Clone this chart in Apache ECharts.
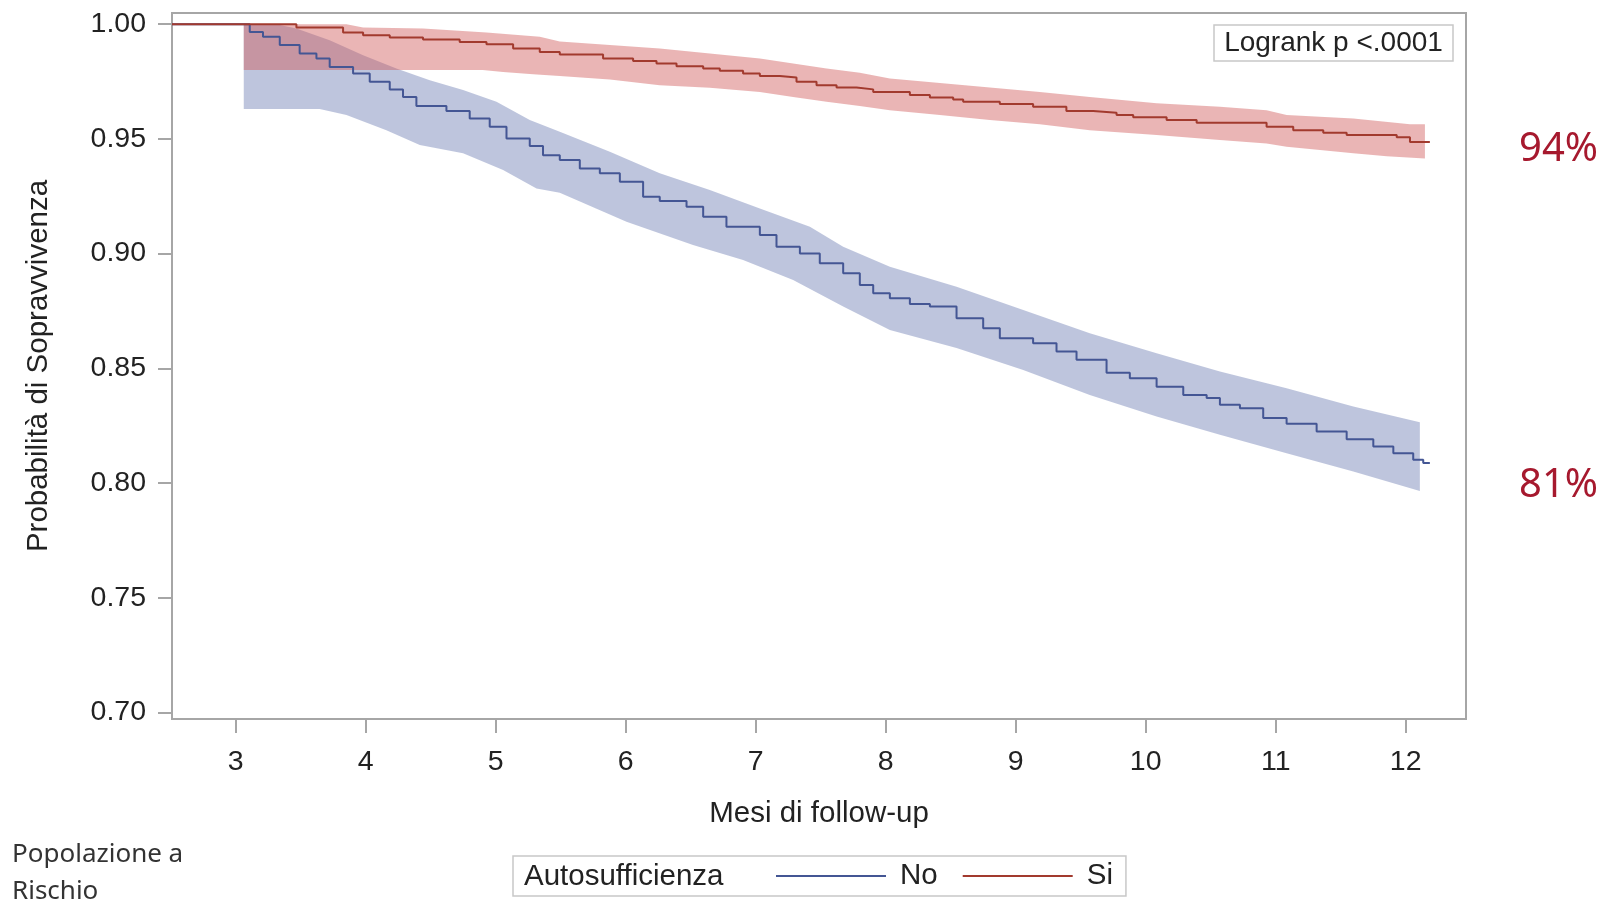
<!DOCTYPE html>
<html>
<head>
<meta charset="utf-8">
<script src="https://cdn.jsdelivr.net/npm/echarts@6/dist/echarts.min.js"></script>
<style>
  html, body { margin: 0; background: #fff; }
  #chart { width: 1602px; height: 904px; }
</style>
</head>
<body>
<div id="chart"></div>
<script>
// assi
const xTicks = [3, 4, 5, 6, 7, 8, 9, 10, 11, 12];
const yTicks = [0.70, 0.75, 0.80, 0.85, 0.90, 0.95, 1.00];

// curva KM - Autosufficienza = No  [mese, sopravvivenza]
const noCurve = [
  [2.51, 1.0], [3.062, 1.0], [3.108, 0.9966], [3.210, 0.9945], [3.339, 0.9909], [3.492, 0.9872],
  [3.621, 0.9851], [3.723, 0.9814], [3.903, 0.9785], [4.031, 0.9749], [4.185, 0.9716], [4.287, 0.9683],
  [4.390, 0.9643], [4.621, 0.9622], [4.800, 0.9589], [4.954, 0.9553], [5.083, 0.9502], [5.262, 0.9469],
  [5.364, 0.9429], [5.493, 0.9408], [5.647, 0.9371], [5.801, 0.9350], [5.955, 0.9313], [6.134, 0.9248],
  [6.262, 0.9229], [6.468, 0.9204], [6.596, 0.9161], [6.775, 0.9117], [7.032, 0.9081], [7.160, 0.9030],
  [7.340, 0.9001], [7.493, 0.8958], [7.673, 0.8914], [7.801, 0.8863], [7.904, 0.8827], [8.032, 0.8805],
  [8.186, 0.8780], [8.340, 0.8769], [8.545, 0.8718], [8.750, 0.8675], [8.878, 0.8631], [9.134, 0.8609],
  [9.314, 0.8573], [9.468, 0.8537], [9.699, 0.8481], [9.878, 0.8457], [10.084, 0.8420], [10.289, 0.8384],
  [10.469, 0.8370], [10.571, 0.8341], [10.725, 0.8326], [10.904, 0.8283], [11.084, 0.8258], [11.315, 0.8224],
  [11.546, 0.8191], [11.751, 0.8159], [11.905, 0.8130], [12.058, 0.8101], [12.135, 0.8087], [12.186, 0.8087]
];

// curva KM - Autosufficienza = Si
const siCurve = [
  [2.51, 1.0], [3.313, 1.0], [3.467, 0.9986], [3.826, 0.9964], [3.980, 0.9952], [4.185, 0.9942],
  [4.441, 0.9933], [4.723, 0.9923], [4.929, 0.9913], [5.134, 0.9894], [5.339, 0.9879], [5.493, 0.9868],
  [5.826, 0.9851], [6.057, 0.9840], [6.237, 0.9829], [6.391, 0.9817], [6.596, 0.9807], [6.724, 0.9797],
  [6.903, 0.9785], [7.032, 0.9774], [7.186, 0.9768], [7.314, 0.9749], [7.468, 0.9734], [7.622, 0.9724],
  [7.776, 0.9716], [7.904, 0.9705], [8.186, 0.9691], [8.340, 0.9681], [8.519, 0.9672], [8.596, 0.9662],
  [8.878, 0.9652], [9.134, 0.9640], [9.390, 0.9622], [9.596, 0.9614], [9.776, 0.9604], [9.904, 0.9594],
  [10.161, 0.9582], [10.392, 0.9570], [10.930, 0.9553], [11.135, 0.9538], [11.366, 0.9527], [11.546, 0.9517],
  [11.931, 0.9507], [12.033, 0.9487], [12.186, 0.9487]
];

// bande di confidenza
const noUpper = [
  [3.062, 1.0], [3.313, 1.0], [3.467, 0.9981], [3.723, 0.9930], [3.980, 0.9865], [4.236, 0.9807],
  [4.493, 0.9756], [4.749, 0.9713], [5.006, 0.9662], [5.262, 0.9582], [5.493, 0.9531], [5.878, 0.9444],
  [6.262, 0.9350], [6.647, 0.9277], [7.032, 0.9197], [7.417, 0.9117], [7.673, 0.9030], [8.032, 0.8943],
  [8.545, 0.8856], [9.058, 0.8754], [9.570, 0.8653], [10.084, 0.8566], [10.571, 0.8486], [11.084, 0.8413],
  [11.597, 0.8333], [12.109, 0.8265]
];
const noLower = [
  [3.062, 0.9630], [3.646, 0.9630], [3.852, 0.9604], [4.159, 0.9538], [4.416, 0.9473], [4.749, 0.9437],
  [5.057, 0.9364], [5.314, 0.9284], [5.493, 0.9265], [6.006, 0.9139], [6.518, 0.9037], [6.903, 0.8972],
  [7.288, 0.8885], [7.673, 0.8769], [8.032, 0.8667], [8.545, 0.8588], [9.058, 0.8493], [9.570, 0.8384],
  [10.084, 0.8290], [10.571, 0.8210], [11.084, 0.8130], [11.597, 0.8050], [12.109, 0.7965]
];
const siUpper = [
  [3.062, 1.0], [3.852, 1.0], [3.980, 0.9986], [4.441, 0.9981], [4.929, 0.9964], [5.339, 0.9945],
  [5.493, 0.9925], [5.878, 0.9909], [6.262, 0.9894], [6.647, 0.9872], [7.032, 0.9851], [7.288, 0.9829],
  [7.545, 0.9807], [7.801, 0.9788], [8.032, 0.9763], [8.417, 0.9744], [8.801, 0.9724], [9.186, 0.9705],
  [9.570, 0.9683], [10.084, 0.9655], [10.571, 0.9640], [10.930, 0.9625], [11.084, 0.9604], [11.597, 0.9589],
  [12.033, 0.9564], [12.148, 0.9564]
];
const siLower = [
  [3.062, 0.9800], [4.900, 0.9800], [5.057, 0.9792], [5.288, 0.9782], [5.493, 0.9774], [5.878, 0.9759],
  [6.262, 0.9734], [6.647, 0.9723], [7.032, 0.9705], [7.288, 0.9683], [7.545, 0.9662], [7.801, 0.9643],
  [8.032, 0.9625], [8.417, 0.9604], [8.801, 0.9582], [9.186, 0.9564], [9.570, 0.9538], [10.084, 0.9517],
  [10.571, 0.9495], [10.930, 0.9480], [11.084, 0.9466], [11.597, 0.9437], [11.854, 0.9425], [12.148, 0.9415]
];

const FONT = '"Liberation Sans", Arial, sans-serif';
const AXIS_GREY = '#A6A6A6';

// poligono della banda (superiore in avanti, inferiore all'indietro)
function bandSeries(name, upper, lower, color) {
  return {
    type: 'custom',
    name: name,
    silent: true,
    clip: true,
    encode: { x: 0, y: 1 },
    data: [upper[0]],
    renderItem: function (params, api) {
      const pts = upper.map(p => api.coord(p))
        .concat(lower.slice().reverse().map(p => api.coord(p)));
      return { type: 'polygon', shape: { points: pts }, style: { fill: color } };
    }
  };
}

const chart = echarts.init(document.getElementById('chart'));

const option = {
  animation: false,
  backgroundColor: '#fff',
  textStyle: { fontFamily: FONT },
  grid: {
    left: 172, right: 136, top: 13, bottom: 185,
    show: true, borderColor: AXIS_GREY, borderWidth: 2
  },
  xAxis: {
    type: 'value',
    min: 2.51,
    max: 12.464,
    name: 'Mesi di follow-up',
    nameLocation: 'middle',
    nameGap: 80,
    nameTextStyle: { fontSize: 29.5, color: '#222', fontFamily: FONT },
    splitLine: { show: false },
    axisLine: { lineStyle: { color: AXIS_GREY, width: 2 } },
    axisTick: { customValues: xTicks, length: 14, lineStyle: { color: AXIS_GREY, width: 2 } },
    axisLabel: {
      customValues: xTicks, margin: 29, fontSize: 28.5, color: '#222', fontFamily: FONT,
      formatter: v => String(Math.round(v))
    }
  },
  yAxis: {
    type: 'value',
    min: 0.6971,
    max: 1.0049,
    splitLine: { show: false },
    axisLine: { show: true, lineStyle: { color: AXIS_GREY, width: 2 } },
    axisTick: { show: true, customValues: yTicks, length: 14, lineStyle: { color: AXIS_GREY, width: 2 } },
    axisLabel: {
      customValues: yTicks, margin: 26, fontSize: 28.5, color: '#222', fontFamily: FONT,
      formatter: v => v.toFixed(2)
    }
  },
  legend: {
    data: [{ name: 'No', icon: 'rect' }, { name: 'Si', icon: 'rect' }],
    left: 513,
    top: 856,
    orient: 'horizontal',
    padding: [5, 13, 5, 263],
    itemWidth: 110,
    itemHeight: 2,
    itemGap: 25,
    borderColor: '#C8C8C8',
    borderWidth: 1.5,
    selectedMode: false,
    textStyle: { fontSize: 29.5, color: '#222', fontFamily: FONT, padding: [0, 0, 0, 9] }
  },
  series: [
    bandSeries('bandaNo', noUpper, noLower, 'rgba(111,126,179,0.45)'),
    bandSeries('bandaSi', siUpper, siLower, 'rgba(208,91,91,0.45)'),
    {
      name: 'No', type: 'line', step: 'end', symbol: 'none', clip: true,
      data: noCurve,
      itemStyle: { color: '#445694' },
      lineStyle: { color: '#445694', width: 2 }
    },
    {
      name: 'Si', type: 'line', step: 'end', symbol: 'none', clip: true,
      data: siCurve,
      itemStyle: { color: '#A23A2E' },
      lineStyle: { color: '#A23A2E', width: 2 }
    }
  ],
  graphic: [
    {
      type: 'text', x: 39, y: 366, rotation: Math.PI / 2,
      style: {
        text: 'Probabilità di Sopravvivenza', font: '29.5px ' + FONT, fill: '#222',
        align: 'center', verticalAlign: 'middle'
      }
    },
    {
      type: 'group', x: 1214, y: 25,
      children: [
        { type: 'rect', shape: { x: 0, y: 0, width: 239, height: 36 },
          style: { fill: '#fff', stroke: '#C8C8C8', lineWidth: 1.5 } },
        { type: 'text', x: 119.5, y: 18,
          style: { text: 'Logrank p <.0001', font: '28px ' + FONT, fill: '#222',
            align: 'center', verticalAlign: 'middle' } }
      ]
    },
    {
      type: 'text', x: 524, y: 877,
      style: { text: 'Autosufficienza', font: '29.5px ' + FONT, fill: '#222', verticalAlign: 'middle' }
    },
    {
      type: 'text', x: 1598, y: 150,
      style: { text: '94%', font: '40px "Noto Sans", sans-serif', fill: '#A6192E',
        align: 'right', verticalAlign: 'middle' }
    },
    {
      type: 'text', x: 1598, y: 486,
      style: { text: '81%', font: '40px "Noto Sans", sans-serif', fill: '#A6192E',
        align: 'right', verticalAlign: 'middle' }
    },
    {
      type: 'text', x: 12, y: 855,
      style: { text: 'Popolazione a', font: '26px "Noto Sans", sans-serif', fill: '#333', verticalAlign: 'middle' }
    },
    {
      type: 'text', x: 12, y: 892,
      style: { text: 'Rischio', font: '26px "Noto Sans", sans-serif', fill: '#333', verticalAlign: 'middle' }
    }
  ]
};

chart.setOption(option);
</script>
</body>
</html>
